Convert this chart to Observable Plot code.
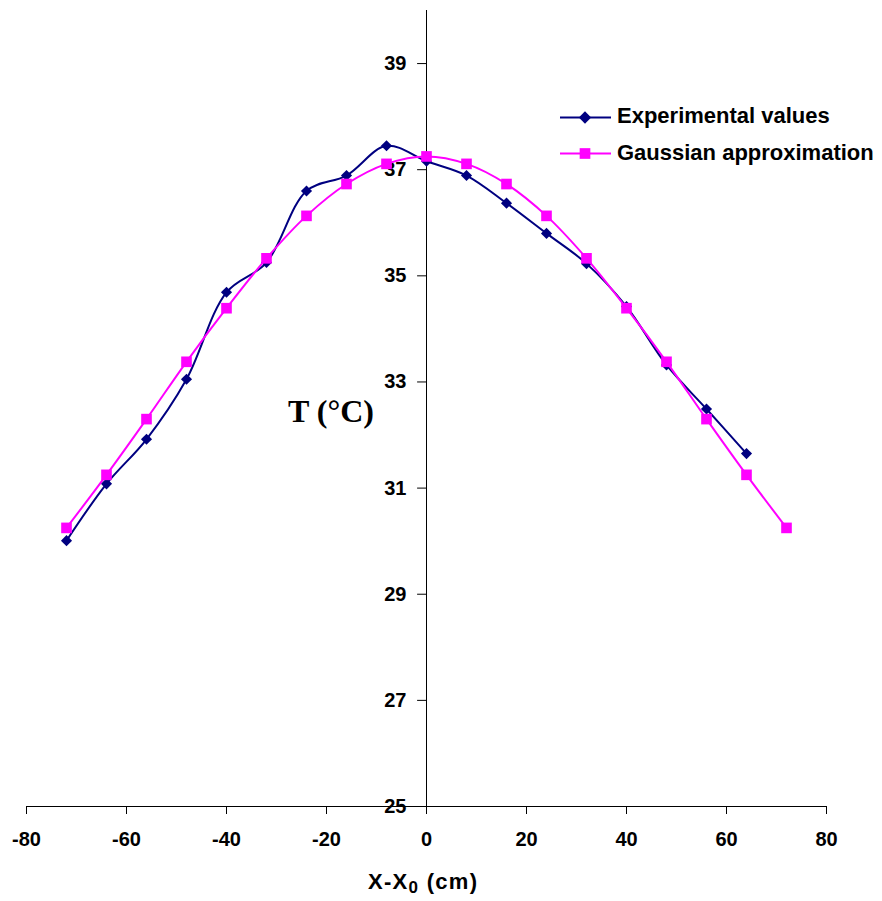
<!DOCTYPE html>
<html>
<head>
<meta charset="utf-8">
<script src="https://cdn.jsdelivr.net/npm/d3@7"></script>
<script src="https://cdn.jsdelivr.net/npm/@observablehq/plot@0.6"></script>
<style>
  body { margin: 0; background: #fff; }
  #chart { position: relative; width: 882px; height: 901px; }
  #chart svg.overlay { position: absolute; left: 0; top: 0; pointer-events: none; }
</style>
</head>
<body>
<div id="chart"></div>
<script>
// ---- data ----
const expX = [-72, -64, -56, -48, -40, -32, -24, -16, -8, 0, 8, 16, 24, 32, 40, 48, 56, 64];
const experimental = [30.01, 31.08, 31.92, 33.05, 34.69, 35.25, 36.60, 36.89, 37.45, 37.16, 36.89, 36.37, 35.80, 35.23, 34.42, 33.32, 32.49, 31.65];
const gaussX = [-72, -64, -56, -48, -40, -32, -24, -16, -8, 0, 8, 16, 24, 32, 40, 48, 56, 64, 72];
const gaussian = [30.25, 31.25, 32.30, 33.38, 34.39, 35.33, 36.13, 36.73, 37.11, 37.25, 37.11, 36.73, 36.13, 35.33, 34.39, 33.38, 32.30, 31.25, 30.25];
const xTicks = [-80, -60, -40, -20, 0, 20, 40, 60, 80];
const yTicks = [25, 27, 29, 31, 33, 35, 37, 39];
const seriesNames = ["Experimental values", "Gaussian approximation"];
const seriesColors = ["#000080", "#FF00FF"];
const yTitle = "T (°C)";

const expData = expX.map((x, i) => ({x, T: experimental[i]}));
const gaussData = gaussX.map((x, i) => ({x, T: gaussian[i]}));

const tickLeft = {draw(ctx, l) { ctx.moveTo(0, 0); ctx.lineTo(-l, 0); }};
const sans = "'Liberation Sans', Arial, Helvetica, sans-serif";

const plot = Plot.plot({
  width: 882,
  height: 901,
  marginLeft: 26,
  marginRight: 56,
  marginTop: 10,
  marginBottom: 95,
  style: {fontFamily: sans, fontWeight: "bold", fontSize: "20px", color: "#000", background: "#fff", overflow: "visible"},
  x: {domain: [-80, 80]},
  y: {domain: [25, 40], axis: null},
  marks: [
    Plot.ruleY([25], {stroke: "#000", strokeWidth: 1}),
    Plot.ruleX([0], {stroke: "#000", strokeWidth: 1}),
    Plot.axisX({ticks: xTicks, tickSize: 8, tickPadding: 17, tickFormat: d => String(d), fontSize: 20, fontWeight: "bold", label: null}),
    Plot.vector(yTicks, {x: 0, y: d => d, length: 9, shape: tickLeft, anchor: "start", stroke: "#000", strokeWidth: 1}),
    Plot.text(yTicks, {x: 0, y: d => d, text: d => String(d), dx: -20, textAnchor: "end", fontSize: 20, fontWeight: "bold", fill: "#000"}),
    Plot.line(expData, {x: "x", y: "T", stroke: seriesColors[0], strokeWidth: 2, curve: "catmull-rom"}),
    Plot.dot(expData, {x: "x", y: "T", symbol: "diamond2", r: 5, fill: seriesColors[0], stroke: "none"}),
    Plot.line(gaussData, {x: "x", y: "T", stroke: seriesColors[1], strokeWidth: 2, curve: "catmull-rom"}),
    Plot.dot(gaussData, {x: "x", y: "T", symbol: "square", r: 6, fill: seriesColors[1], stroke: "none"})
  ]
});
document.getElementById("chart").appendChild(plot);

// ---- overlay: legend and axis titles ----
const ov = d3.select("#chart").append("svg")
  .attr("class", "overlay").attr("width", 882).attr("height", 901);

const symbols = [d3.symbolDiamond2, d3.symbolSquare];
const sizes = [96, 114];
const rowY = [117.5, 153.5];
const baseOff = [5.8, 6.4];
seriesNames.forEach((name, i) => {
  const g = ov.append("g").attr("transform", `translate(0,${rowY[i]})`);
  g.append("line").attr("x1", 560).attr("x2", 611).attr("y1", 0).attr("y2", 0)
    .attr("stroke", seriesColors[i]).attr("stroke-width", 2);
  g.append("path").attr("transform", "translate(585,0)")
    .attr("d", d3.symbol().type(symbols[i]).size(sizes[i])())
    .attr("fill", seriesColors[i]);
  g.append("text").attr("x", 617).attr("y", baseOff[i])
    .attr("font-family", sans).attr("font-weight", "bold").attr("font-size", 22)
    .attr("fill", "#000").text(name);
});

ov.append("text").attr("x", 288).attr("y", 421.7)
  .attr("font-family", "'Liberation Serif', 'Times New Roman', Times, serif")
  .attr("font-weight", "bold").attr("font-size", 32).attr("fill", "#000")
  .text(yTitle);

const xt = ov.append("text").attr("x", 368).attr("y", 889)
  .attr("font-family", sans).attr("font-weight", "bold").attr("font-size", 22)
  .attr("fill", "#000").attr("textLength", 109).attr("lengthAdjust", "spacing");
xt.append("tspan").text("X-X");
xt.append("tspan").attr("font-size", 17).attr("dy", 4).text("0");
xt.append("tspan").attr("dy", -4).text(" (cm)");
</script>
</body>
</html>
